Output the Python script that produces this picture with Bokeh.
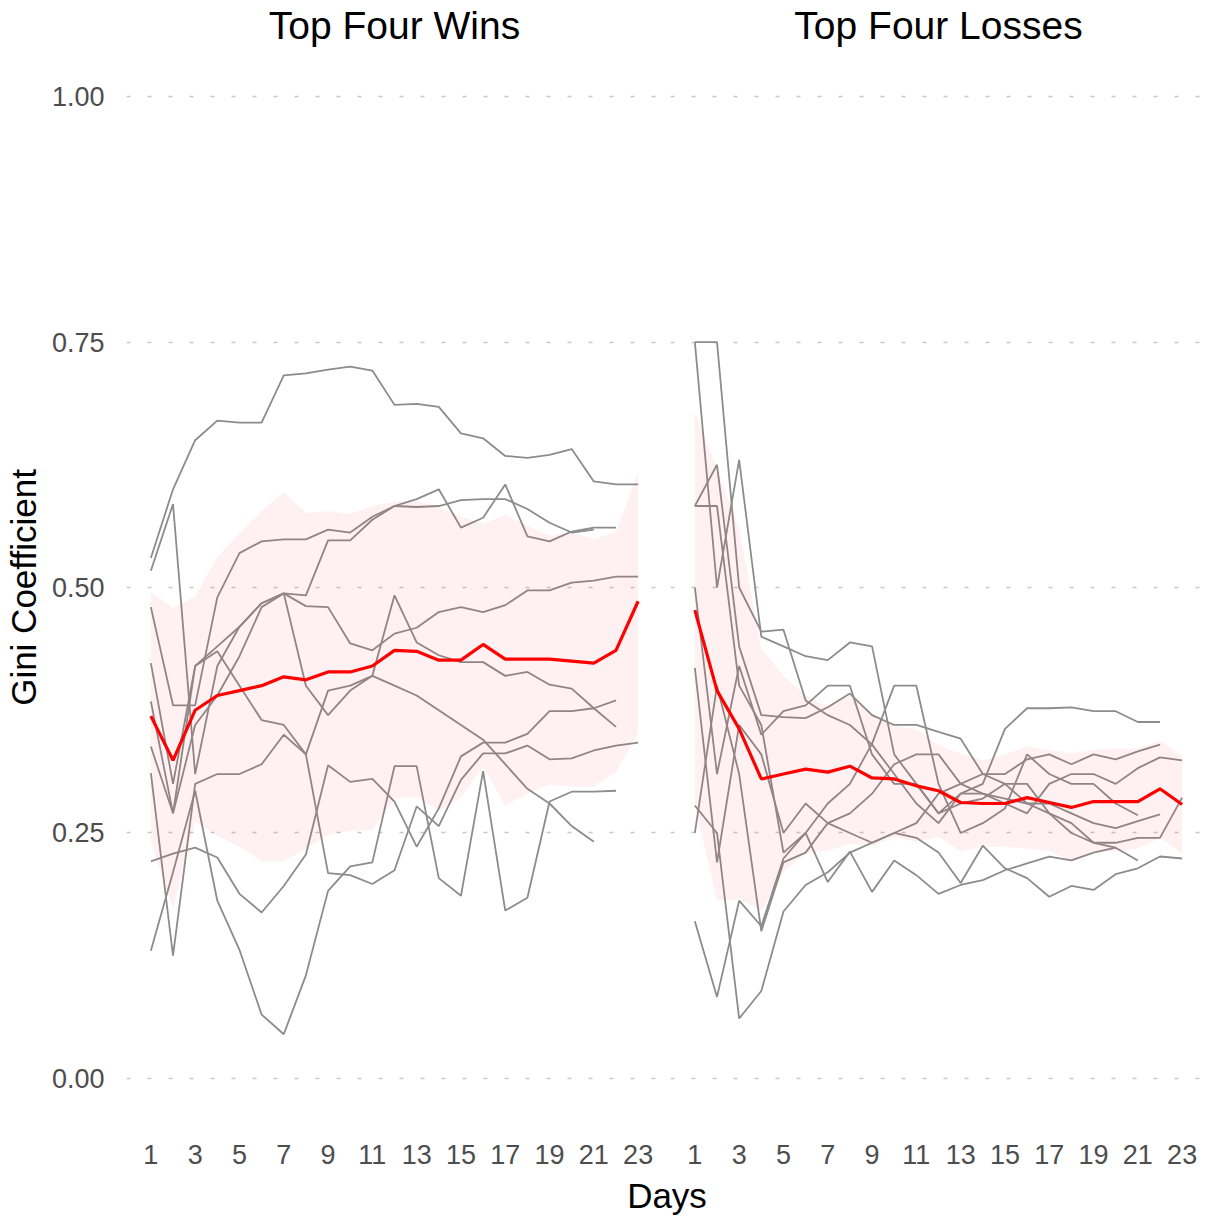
from bokeh.plotting import figure
from bokeh.layouts import row, column
from bokeh.models import Range1d, FixedTicker, NumeralTickFormatter, Div, Spacer
from bokeh.embed import file_html
from bokeh.resources import INLINE

days = list(range(1, 24))
x_ticks = list(range(1, 24, 2))
y_ticks = [0.0, 0.25, 0.5, 0.75, 1.0]

# ---- Top Four Wins: individual players ----
wins_1 = [0.53, 0.60, 0.65, 0.67, 0.668, 0.668, 0.716, 0.718, 0.722, 0.725, 0.721, 0.686, 0.687, 0.684, 0.657, 0.652, 0.634, 0.632, 0.635, 0.641, 0.608, 0.605, 0.605]
wins_2 = [0.517, 0.585, 0.31, 0.42, 0.46, 0.484, 0.494, 0.492, 0.548, 0.548, 0.569, 0.583, 0.59, 0.60, 0.561, 0.571, 0.605, 0.552, 0.547, 0.557, 0.561, 0.561]
wins_3 = [0.48, 0.38, 0.38, 0.49, 0.535, 0.547, 0.549, 0.549, 0.559, 0.556, 0.572, 0.583, 0.582, 0.583, 0.589, 0.59, 0.59, 0.58, 0.566, 0.556, 0.559]
wins_4 = [0.423, 0.30, 0.42, 0.44, 0.46, 0.484, 0.494, 0.481, 0.48, 0.443, 0.436, 0.453, 0.459, 0.475, 0.48, 0.475, 0.482, 0.497, 0.497, 0.505, 0.507, 0.511, 0.511]
wins_5 = [0.384, 0.27, 0.36, 0.39, 0.43, 0.48, 0.494, 0.40, 0.37, 0.395, 0.41, 0.492, 0.444, 0.431, 0.424, 0.424, 0.41, 0.414, 0.401, 0.397, 0.377, 0.358]
wins_6 = [0.338, 0.27, 0.42, 0.435, 0.40, 0.365, 0.36, 0.33, 0.395, 0.40, 0.41, 0.40, 0.39, 0.375, 0.36, 0.345, 0.32, 0.295, 0.28, 0.257, 0.241]
wins_7 = [0.311, 0.125, 0.30, 0.31, 0.31, 0.32, 0.35, 0.33, 0.209, 0.207, 0.198, 0.212, 0.277, 0.257, 0.304, 0.331, 0.331, 0.339, 0.325, 0.326, 0.334, 0.339, 0.342]
wins_8 = [0.221, 0.229, 0.235, 0.225, 0.188, 0.169, 0.196, 0.228, 0.319, 0.302, 0.305, 0.282, 0.236, 0.275, 0.328, 0.342, 0.342, 0.351, 0.374, 0.374, 0.377, 0.385]
wins_9 = [0.13, 0.21, 0.293, 0.181, 0.131, 0.065, 0.045, 0.105, 0.191, 0.216, 0.22, 0.318, 0.318, 0.204, 0.186, 0.313, 0.171, 0.184, 0.282, 0.292, 0.292, 0.293]
wins_players = [wins_1, wins_2, wins_3, wins_4, wins_5, wins_6, wins_7, wins_8, wins_9]

wins_mean = [0.369, 0.324, 0.375, 0.39, 0.395, 0.40, 0.409, 0.406, 0.414, 0.414, 0.42, 0.436, 0.435, 0.426, 0.426, 0.442, 0.427, 0.427, 0.427, 0.425, 0.423, 0.436, 0.486]
wins_hi = [0.496, 0.479, 0.491, 0.531, 0.555, 0.578, 0.597, 0.576, 0.578, 0.575, 0.583, 0.587, 0.588, 0.582, 0.572, 0.565, 0.574, 0.563, 0.553, 0.556, 0.549, 0.557, 0.618]
wins_lo = [0.241, 0.173, 0.262, 0.247, 0.236, 0.221, 0.221, 0.234, 0.248, 0.252, 0.253, 0.285, 0.287, 0.272, 0.286, 0.318, 0.278, 0.29, 0.299, 0.297, 0.297, 0.312, 0.351]

# ---- Top Four Losses: individual players ----
loss_1 = [0.75, 0.75, 0.50, 0.455, 0.457, 0.385, 0.37, 0.36, 0.34, 0.31, 0.28, 0.26, 0.29, 0.30, 0.356, 0.377, 0.377, 0.378, 0.374, 0.374, 0.363, 0.363]
loss_2 = [0.75, 0.50, 0.63, 0.45, 0.44, 0.43, 0.426, 0.444, 0.44, 0.33, 0.30, 0.27, 0.29, 0.29, 0.28, 0.27, 0.30, 0.31, 0.31, 0.30, 0.316, 0.327, 0.324]
loss_3 = [0.583, 0.625, 0.44, 0.37, 0.368, 0.367, 0.378, 0.392, 0.37, 0.36, 0.36, 0.353, 0.346, 0.31, 0.31, 0.325, 0.33, 0.32, 0.33, 0.325, 0.333, 0.34]
loss_4 = [0.583, 0.583, 0.40, 0.36, 0.23, 0.25, 0.28, 0.30, 0.341, 0.40, 0.40, 0.30, 0.25, 0.26, 0.275, 0.33, 0.31, 0.30, 0.30, 0.28, 0.268]
loss_5 = [0.50, 0.31, 0.42, 0.35, 0.374, 0.38, 0.40, 0.40, 0.33, 0.30, 0.30, 0.27, 0.28, 0.285, 0.30, 0.30, 0.27, 0.25, 0.24, 0.24, 0.245, 0.245, 0.286]
loss_6 = [0.418, 0.22, 0.36, 0.33, 0.25, 0.28, 0.26, 0.27, 0.29, 0.32, 0.33, 0.33, 0.30, 0.29, 0.285, 0.28, 0.28, 0.27, 0.26, 0.255, 0.262, 0.269]
loss_7 = [0.278, 0.25, 0.061, 0.089, 0.17, 0.197, 0.21, 0.23, 0.24, 0.25, 0.26, 0.29, 0.30, 0.31, 0.30, 0.28, 0.27, 0.26, 0.24, 0.235, 0.222]
loss_8 = [0.25, 0.40, 0.31, 0.15, 0.22, 0.23, 0.26, 0.25, 0.24, 0.25, 0.245, 0.23, 0.199, 0.237, 0.214, 0.204, 0.185, 0.196, 0.192, 0.208, 0.214, 0.226, 0.224]
loss_9 = [0.16, 0.083, 0.181, 0.155, 0.224, 0.25, 0.20, 0.231, 0.19, 0.222, 0.207, 0.188, 0.197, 0.202, 0.212, 0.219, 0.226, 0.222, 0.23, 0.235]
loss_players = [loss_1, loss_2, loss_3, loss_4, loss_5, loss_6, loss_7, loss_8, loss_9]

loss_mean = [0.477, 0.395, 0.356, 0.305, 0.31, 0.315, 0.312, 0.318, 0.306, 0.305, 0.298, 0.293, 0.281, 0.28, 0.28, 0.286, 0.281, 0.276, 0.282, 0.282, 0.282, 0.295, 0.279]
loss_hi = [0.679, 0.621, 0.56, 0.438, 0.41, 0.39, 0.379, 0.39, 0.372, 0.359, 0.356, 0.339, 0.331, 0.324, 0.33, 0.338, 0.335, 0.331, 0.335, 0.336, 0.336, 0.344, 0.328]
loss_lo = [0.278, 0.181, 0.183, 0.171, 0.21, 0.229, 0.232, 0.239, 0.237, 0.246, 0.241, 0.246, 0.231, 0.236, 0.236, 0.234, 0.232, 0.221, 0.231, 0.231, 0.234, 0.245, 0.229]

FONT = "Liberation Sans"
TICK_COLOR = "#4d4d4d"
FRAME_W = 536
FRAME_H = 1080
LEFT_BORDER = 116

y_range = Range1d(-0.05, 1.05)


def make_panel(title, players, mean, lo, hi, show_y):
    p = figure(
        frame_width=FRAME_W, frame_height=FRAME_H,
        x_range=Range1d(-0.1, 24.1), y_range=y_range,
        output_backend="svg", toolbar_location=None,
        y_axis_location="left" if show_y else None,
        min_border_left=LEFT_BORDER if show_y else 8,
        min_border_right=0, min_border_top=43, min_border_bottom=44,
    )
    p.title.text = title
    p.title.align = "center"
    p.title.text_font = FONT
    p.title.text_font_size = "39px"
    p.title.text_font_style = "normal"
    p.title.text_color = "black"
    p.title.standoff = 2

    p.outline_line_color = None
    p.background_fill_color = "white"
    p.border_fill_color = "white"

    p.xgrid.grid_line_color = None
    p.ygrid.ticker = FixedTicker(ticks=y_ticks)
    p.ygrid.grid_line_color = "#c8c8c8"
    p.ygrid.grid_line_width = 1.6
    p.ygrid.grid_line_dash = "4 17"

    p.xaxis.ticker = FixedTicker(ticks=x_ticks)
    p.xaxis.axis_line_color = None
    p.xaxis.major_tick_line_color = None
    p.xaxis.minor_tick_line_color = None
    p.xaxis.major_label_text_font = FONT
    p.xaxis.major_label_text_font_size = "27px"
    p.xaxis.major_label_text_color = TICK_COLOR
    p.xaxis.major_label_standoff = 11

    if show_y:
        p.yaxis.ticker = FixedTicker(ticks=y_ticks)
        p.yaxis.formatter = NumeralTickFormatter(format="0.00")
        p.yaxis.axis_line_color = None
        p.yaxis.major_tick_line_color = None
        p.yaxis.minor_tick_line_color = None
        p.yaxis.major_label_text_font = FONT
        p.yaxis.major_label_text_font_size = "27px"
        p.yaxis.major_label_text_color = TICK_COLOR
        p.yaxis.major_label_standoff = 16
        p.yaxis.axis_label = "Gini Coefficient"
        p.yaxis.axis_label_text_font = FONT
        p.yaxis.axis_label_text_font_size = "35px"
        p.yaxis.axis_label_text_font_style = "normal"
        p.yaxis.axis_label_text_color = "black"
        p.yaxis.axis_label_standoff = 6

    for s in players:
        p.line(days[:len(s)], s, line_color="#8c8c8c", line_width=1.8)
    p.varea(x=days, y1=lo, y2=hi, fill_color="red", fill_alpha=0.055)
    p.line(days, mean, line_color="#ff0000", line_width=3.2)
    return p


p1 = make_panel("Top Four Wins", wins_players, wins_mean, wins_lo, wins_hi, True)
p2 = make_panel("Top Four Losses", loss_players, loss_mean, loss_lo, loss_hi, False)
p2.min_border_right = 3

days_label = Div(
    text="Days", width=2 * FRAME_W + 8, height=33,
    styles={"text-align": "center", "font-size": "35px", "font-family": FONT,
            "color": "black", "line-height": "40px"},
)
layout = column(
    row(p1, p2, spacing=0),
    row(Spacer(width=LEFT_BORDER + 6, height=33), days_label, spacing=0),
    spacing=0,
)

open("out.html", "w").write(file_html(layout, INLINE))
